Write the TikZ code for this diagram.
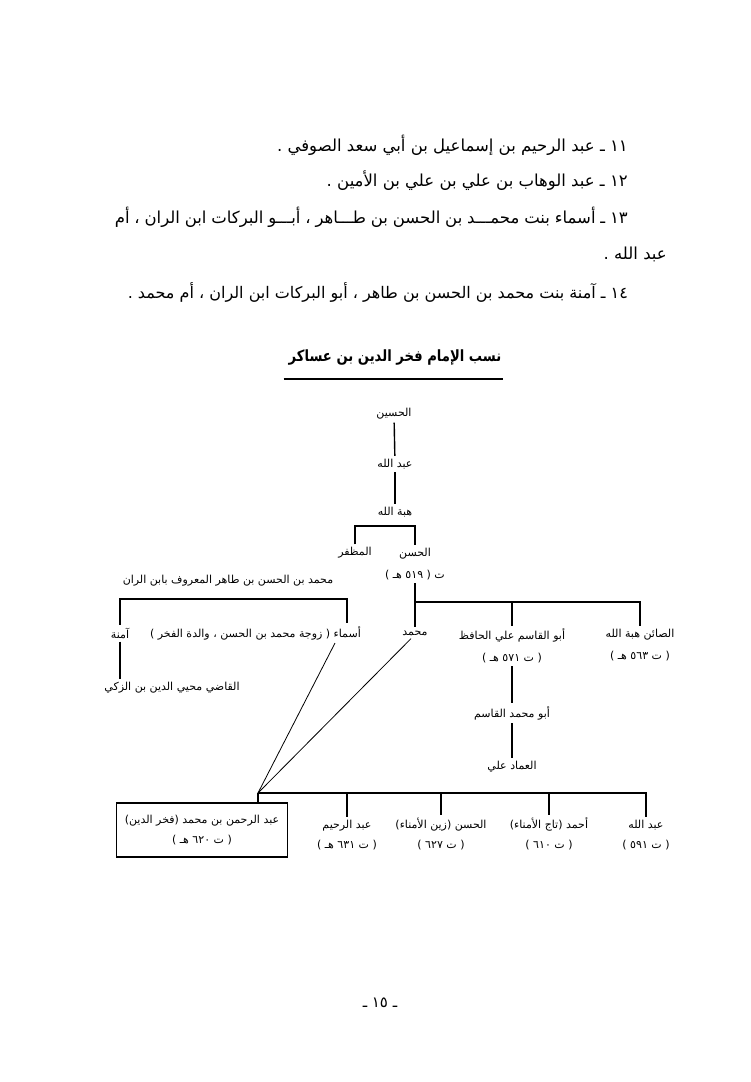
\documentclass[tikz,border=0pt]{standalone}
\usepackage{fontspec}
\usepackage{graphicx}
\newfontfamily\arabicfont[Script=Arabic]{DejaVu Sans}
\TeXXeTstate=1
\newcommand{\arb}[1]{\beginR #1\endR}

\tikzset{
  person/.style={align=center, inner sep=3pt, font=\arabicfont\fontsize{11}{22}\selectfont},
  hijo/.style={person, font=\arabicfont\fontsize{11}{20}\selectfont},
  renglon/.style={anchor=east, inner sep=0pt, font=\arabicfont\fontsize{16.5}{20}\selectfont},
  linea/.style={line width=1.4pt}
}

\begin{document}
\begin{tikzpicture}[x=1pt,y=-1pt]
  \useasboundingbox (0,0) rectangle (750,1082);

  % Texto superior
  \node[renglon] (l11) at (628,145) {\arb{١١ ـ عبد الرحيم بن إسماعيل بن أبي سعد الصوفي .}};
  \node[renglon] (l12) at (628,181) {\arb{١٢ ـ عبد الوهاب بن علي بن علي بن الأمين .}};
  \node[renglon] (l13) at (628,217) {\hbox to 513pt{\beginR ١٣ ـ أسماء بنت محمـــد بن الحسن بن طـــاهر ، أبـــو البركات ابن الران ، أم\endR}};
  \node[renglon] (l13b) at (667,254) {\arb{عبد الله .}};
  \node[renglon, font=\arabicfont\fontsize{16}{20}\selectfont] (l14) at (628,292) {\arb{١٤ ـ آمنة بنت محمد بن الحسن بن طاهر ، أبو البركات ابن الران ، أم محمد .}};

  % Título
  \node[font=\arabicfont\bfseries\fontsize{15.5}{18}\selectfont, inner sep=0pt] (titulo) at (395,357)
    {\scalebox{0.85}[1]{\arb{نسب الإمام فخر الدين بن عساكر}}};
  \draw[line width=2.2pt] ([xshift=-5pt,yshift=-14pt]titulo.south west) -- ([xshift=2pt,yshift=-14pt]titulo.south east);

  % Línea principal
  \node[person] (husain) at (394,414) {\arb{الحسين}};
  \node[person] (abdallah) at (395,464) {\arb{عبد الله}};
  \node[person] (hibat) at (395,512) {\arb{هبة الله}};
  \node[person] (muzaffar) at (355,553) {\arb{المظفر}};
  \node[person] (hasan) at (415,564) {\arb{الحسن}\\\arb{ت ( ٥١٩ هـ )}};

  % Rama de Ibn al-Rayyan
  \node[person] (rayyan) at (228,581) {\arb{محمد بن الحسن بن طاهر المعروف بابن الران}};
  \node[person] (amina) at (120,633) {\arb{آمنة}};
  \node[person, anchor=east] (asma) at (364,633) {\arb{أسماء ( زوجة محمد بن الحسن ، والدة الفخر )}};
  \node[person] (qadi) at (172,688) {\arb{القاضي محيي الدين بن الزكي}};

  % Hijos de al-Hasan
  \node[person] (muhammad) at (415,633) {\arb{محمد}};
  \node[person] (hafiz) at (512,646) {\arb{أبو القاسم علي الحافظ}\\\arb{( ت ٥٧١ هـ )}};
  \node[person] (sain) at (640,645) {\arb{الصائن هبة الله}\\\arb{( ت ٥٦٣ هـ )}};
  \node[person] (qasim) at (512,713) {\arb{أبو محمد القاسم}};
  \node[person] (imad) at (512,767) {\arb{العماد علي}};

  % Hijos de Muhammad
  \node[hijo, draw, line width=1.4pt, minimum width=171pt, minimum height=54pt] (fakhr) at (202,830)
    {\arb{عبد الرحمن بن محمد (فخر الدين)}\\\arb{( ت ٦٢٠ هـ )}};
  \node[hijo] (rahim) at (347,835) {\arb{عبد الرحيم}\\\arb{( ت ٦٣١ هـ )}};
  \node[hijo] (zain) at (441,834) {\arb{الحسن (زين الأمناء)}\\\arb{( ت ٦٢٧ )}};
  \node[hijo] (taj) at (549,834) {\arb{أحمد (تاج الأمناء)}\\\arb{( ت ٦١٠ )}};
  \node[hijo] (abdallahb) at (646,835) {\arb{عبد الله}\\\arb{( ت ٥٩١ )}};

  % Puntos de unión
  \coordinate (tophasan) at (415,526);
  \coordinate (hasjoin) at (415,602);
  \coordinate (rayyanR) at (347,599);
  \coordinate (fakhrjoin) at (258,793);

  % Aristas verticales
  \foreach \from/\to in {husain/abdallah, abdallah/hibat, hasan/muhammad, hafiz/qasim, qasim/imad}
    \draw[linea] (\from) -- (\to);

  % Corchetes
  \draw[linea] (muzaffar.north) |- (tophasan) -- (hasan.north);
  \foreach \to in {hafiz, sain}
    \draw[linea] (hasjoin) -| (\to.north);
  \draw[linea] (amina.north) |- (rayyanR) -- (rayyanR |- asma.north);
  \draw[linea] (amina) -- (amina |- qadi.north);
  \foreach \to in {rahim, zain, taj, abdallahb}
    \draw[linea] (fakhrjoin) -| (\to.north);
  \draw[linea] (fakhrjoin) -- (fakhrjoin |- fakhr.north);

  % Diagonales hacia Fakhr al-Din
  \draw[line width=0.8pt] ([xshift=-29pt]asma.south east) -- (fakhrjoin);
  \draw[line width=0.8pt] ([xshift=-4pt]muhammad.south) -- (fakhrjoin);

  % Número de página
  \node[font=\arabicfont\fontsize{15}{16}\selectfont] (pagina) at (380,1003) {\arb{ـ ١٥ ـ}};
\end{tikzpicture}
\end{document}
